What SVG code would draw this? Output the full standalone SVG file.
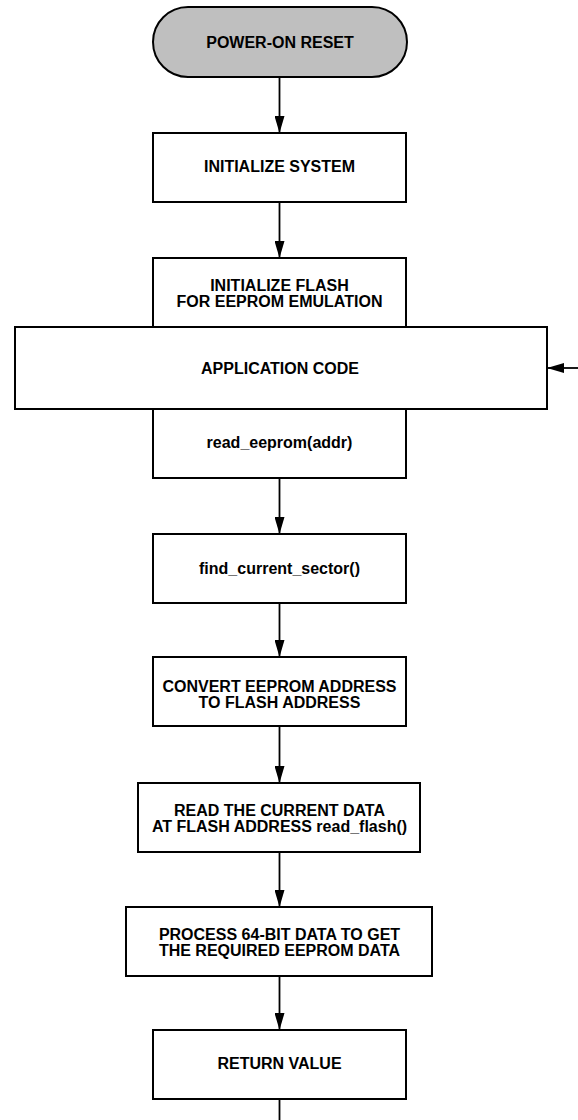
<svg xmlns="http://www.w3.org/2000/svg" width="578" height="1120" viewBox="0 0 578 1120">
<style>
.box{fill:#fff;stroke:#000;stroke-width:2}
.term{fill:#bfbfbf;stroke:#000;stroke-width:2}
.t{font-family:"Liberation Sans",Arial,sans-serif;font-weight:bold;font-size:16px;fill:#000;text-anchor:middle}
.c{stroke:#000;stroke-width:1.8;fill:none}
</style>
<defs>
<marker id="ah" viewBox="0 0 17 10" refX="17" refY="5" markerWidth="17" markerHeight="10" markerUnits="userSpaceOnUse" orient="auto">
<path d="M0,0 L17,5 L0,10 z" fill="#000"/>
</marker>
</defs>
<rect width="578" height="1120" fill="#fff"/>
<g id="connectors">
<line class="c" x1="279.5" y1="77" x2="279.5" y2="133" marker-end="url(#ah)"/>
<line class="c" x1="279.5" y1="202" x2="279.5" y2="258" marker-end="url(#ah)"/>
<line class="c" x1="578" y1="368" x2="547" y2="368" marker-end="url(#ah)"/>
<line class="c" x1="279.5" y1="478" x2="279.5" y2="534" marker-end="url(#ah)"/>
<line class="c" x1="279.5" y1="603" x2="279.5" y2="657" marker-end="url(#ah)"/>
<line class="c" x1="279.5" y1="726" x2="279.5" y2="783" marker-end="url(#ah)"/>
<line class="c" x1="279.5" y1="852" x2="279.5" y2="907" marker-end="url(#ah)"/>
<line class="c" x1="279.5" y1="976" x2="279.5" y2="1030" marker-end="url(#ah)"/>
<line class="c" x1="279.5" y1="1099" x2="279.5" y2="1120"/>
</g>
<g id="power-on-reset">
<rect class="term" x="153" y="7" width="254" height="70" rx="35" ry="35"/>
<text class="t" x="280" y="47.5">POWER-ON RESET</text>
</g>
<g id="initialize-system">
<rect class="box" x="153" y="133" width="253" height="69"/>
<text class="t" x="279.5" y="171.5">INITIALIZE SYSTEM</text>
</g>
<g id="initialize-flash">
<rect class="box" x="153" y="258" width="253" height="69"/>
<text class="t" x="279.5" y="291">INITIALIZE FLASH</text>
<text class="t" x="279.5" y="307">FOR EEPROM EMULATION</text>
</g>
<g id="read-eeprom">
<rect class="box" x="153" y="409" width="253" height="69"/>
<text class="t" x="279.5" y="448">read_eeprom(addr)</text>
</g>
<g id="application-code">
<rect class="box" x="15" y="327" width="532" height="82"/>
<text class="t" x="280" y="373.5">APPLICATION CODE</text>
</g>
<g id="find-current-sector">
<rect class="box" x="153" y="534" width="253" height="69"/>
<text class="t" x="279.5" y="573.5">find_current_sector()</text>
</g>
<g id="convert-address">
<rect class="box" x="153" y="657" width="253" height="69"/>
<text class="t" x="279.5" y="691.5">CONVERT EEPROM ADDRESS</text>
<text class="t" x="279.5" y="707.5">TO FLASH ADDRESS</text>
</g>
<g id="read-current-data">
<rect class="box" x="138" y="783" width="282" height="69"/>
<text class="t" x="279.5" y="816">READ THE CURRENT DATA</text>
<text class="t" x="279.5" y="832">AT FLASH ADDRESS read_flash()</text>
</g>
<g id="process-data">
<rect class="box" x="126" y="907" width="306" height="69"/>
<text class="t" x="279.5" y="939.5">PROCESS 64-BIT DATA TO GET</text>
<text class="t" x="279.5" y="955.5">THE REQUIRED EEPROM DATA</text>
</g>
<g id="return-value">
<rect class="box" x="153" y="1030" width="253" height="69"/>
<text class="t" x="279.5" y="1069">RETURN VALUE</text>
</g>
</svg>
